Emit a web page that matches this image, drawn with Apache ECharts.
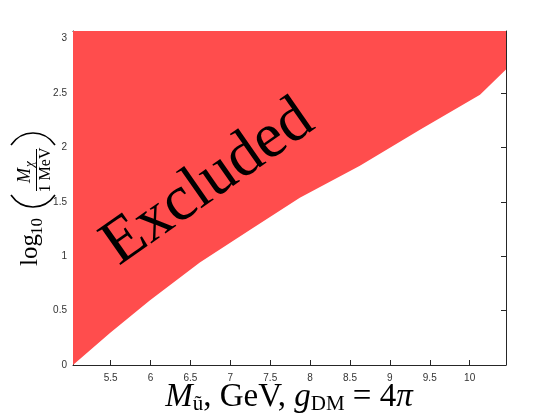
<!DOCTYPE html>
<html>
<head>
<meta charset="utf-8">
<script src="https://cdn.jsdelivr.net/npm/echarts@6/dist/echarts.min.js"></script>
<style>
  html, body { margin: 0; padding: 0; background: #fff; }
  #chart { width: 560px; height: 420px; }
</style>
</head>
<body>
<div id="chart"></div>
<script>
// boundary of the excluded region
var massX = [5.027, 5.487, 5.989, 6.617, 7.244, 7.871, 8.624, 9.377, 10.130, 10.456];
var logMass = [0, 0.291, 0.593, 0.943, 1.242, 1.537, 1.831, 2.163, 2.485, 2.715];

var xTicks = [5.5, 6, 6.5, 7, 7.5, 8, 8.5, 9, 9.5, 10];
var yTicks = [0, 0.5, 1, 1.5, 2, 2.5, 3];
var yMax = 3.07;

var axisColor = '#262626';
var serif = '"Liberation Serif", "Times New Roman", serif';

var points = massX.map(function (x, i) { return [x, logMass[i]]; });

var myChart = echarts.init(document.getElementById('chart'));

function xAx(pos, labels) {
  return {
    type: 'value',
    position: pos,
    min: massX[0],
    max: massX[massX.length - 1],
    axisLine: { show: true, onZero: false, lineStyle: { color: axisColor, width: 1 } },
    axisTick: { show: true, inside: true, length: 5, customValues: xTicks, lineStyle: { color: axisColor } },
    axisLabel: {
      show: labels, customValues: xTicks, margin: 8,
      color: '#333', fontSize: 10, fontFamily: '"Liberation Sans", Arial, sans-serif'
    },
    splitLine: { show: false }
  };
}

function yAx(pos, labels) {
  return {
    type: 'value',
    position: pos,
    min: 0,
    max: yMax,
    axisLine: { show: true, onZero: false, lineStyle: { color: axisColor, width: 1 } },
    axisTick: { show: true, inside: true, length: 5, customValues: yTicks, lineStyle: { color: axisColor } },
    axisLabel: {
      show: labels, customValues: yTicks, margin: 6,
      color: '#333', fontSize: 10, fontFamily: '"Liberation Sans", Arial, sans-serif'
    },
    splitLine: { show: false }
  };
}

function txt(s, size, italic, extra) {
  var st = {
    text: s, fill: '#000',
    fontFamily: serif, fontSize: size,
    fontStyle: italic ? 'italic' : 'normal', fontWeight: 'normal',
    align: 'left', verticalAlign: 'middle'
  };
  for (var k in extra) st[k] = extra[k];
  return st;
}

var option = {
  animation: false,
  grid: { left: 73, right: 54, top: 31, bottom: 55 },
  xAxis: [xAx('bottom', true), xAx('top', false)],
  yAxis: [yAx('left', true), yAx('right', false)],
  series: [{
    type: 'line',
    xAxisIndex: 0,
    yAxisIndex: 0,
    data: points,
    showSymbol: false,
    silent: true,
    lineStyle: { width: 0, opacity: 0 },
    areaStyle: { color: '#ff4d4d', opacity: 1, origin: 'end' }
  }],
  graphic: [
    // big label inside the region
    {
      type: 'text', z: 100,
      x: 208, y: 183,
      rotation: 35 * Math.PI / 180,
      style: txt('Excluded', 64, false, { align: 'center' })
    },
    // x axis title
    {
      type: 'text', z: 100,
      x: 289, y: 397,
      style: {
        text: '{it|M}{sb|ũ}{rm|, GeV, }{it|g}{sb|DM}{rm| = 4}{it|π}',
        align: 'center', verticalAlign: 'middle',
        fill: '#000',
        rich: {
          it: { fontFamily: serif, fontStyle: 'italic', fontSize: 33, lineHeight: 36, color: '#000' },
          rm: { fontFamily: serif, fontStyle: 'normal', fontSize: 33, lineHeight: 36, color: '#000' },
          sb: { fontFamily: serif, fontStyle: 'normal', fontSize: 21, lineHeight: 17, verticalAlign: 'bottom', color: '#000' }
        }
      }
    },
    // y axis title, drawn left-to-right then turned
    {
      type: 'group', z: 100,
      x: 36, y: 200,
      rotation: Math.PI / 2,
      children: [
        { type: 'text', z: 100, x: -66, y: -6, style: txt('log', 25, false) },
        { type: 'text', z: 100, x: -35, y: 2, style: txt('10', 17, false) },
        { type: 'bezierCurve', z: 100,
          shape: { x1: 5, y1: -25, cpx1: -11, cpy1: -14, cpx2: -11, cpy2: 8, x2: 5, y2: 19 },
          style: { stroke: '#000', lineWidth: 1.6, fill: null } },
        { type: 'bezierCurve', z: 100,
          shape: { x1: 55, y1: -25, cpx1: 71, cpy1: -14, cpx2: 71, cpy2: 8, x2: 55, y2: 19 },
          style: { stroke: '#000', lineWidth: 1.6, fill: null } },
        { type: 'line', z: 100,
          shape: { x1: 9, y1: 0.5, x2: 51, y2: 0.5 },
          style: { stroke: '#000', lineWidth: 1 } },
        { type: 'text', z: 100, x: 17, y: -11, style: txt('M', 18, true) },
        { type: 'text', z: 100, x: 33, y: -6, style: txt('χ', 13, true) },
        { type: 'text', z: 100, x: 30, y: 10, style: txt('1 MeV', 16, false, { align: 'center' }) }
      ]
    }
  ]
};

myChart.setOption(option);
</script>
</body>
</html>
